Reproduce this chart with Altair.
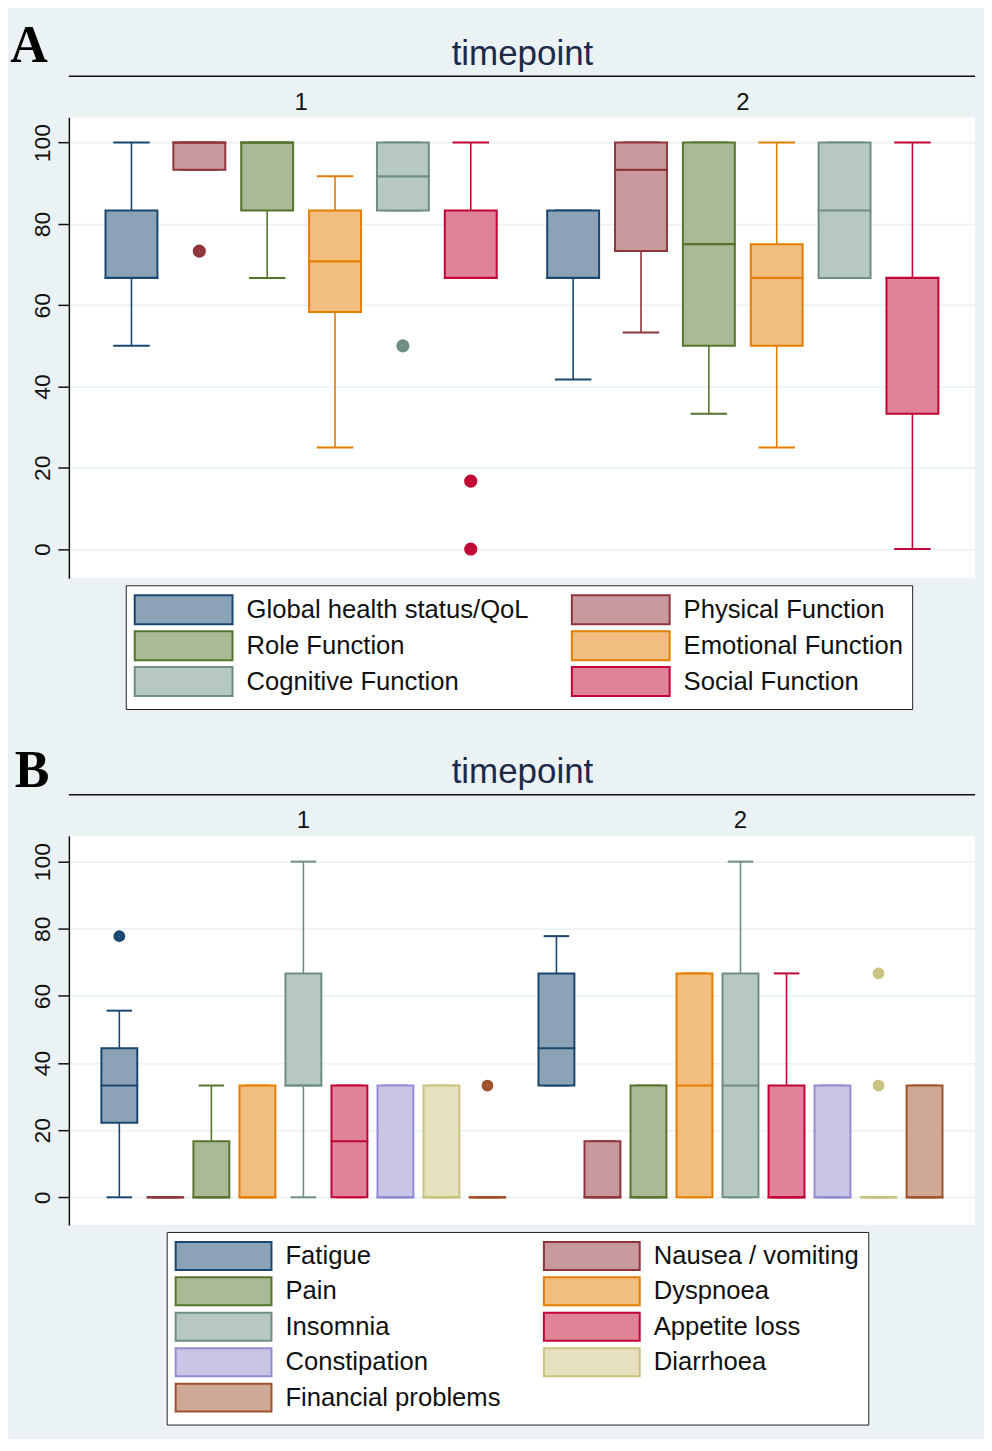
import altair as alt
import pandas as pd

TIMEPOINTS = ["1", "2"]

DARK = ["#1A476F", "#90353B", "#55752F", "#E37E00", "#6E8E84",
        "#C10534", "#938DD2", "#CAC27E", "#A0522D"]
LIGHT = ["#8CA3B7", "#C89A9D", "#AABA97", "#F1BE7F", "#B7C7C2",
         "#E08299", "#C9C6E5", "#E5E1BF", "#D0A996"]

# ---------------- Panel A : functional scales ----------------
func_measures = ["Global health status/QoL", "Physical Function", "Role Function",
                 "Emotional Function", "Cognitive Function", "Social Function"]
# timepoint 1
func_t1_low = [50, 93.3, 66.7, 25, 83.3, 66.7]
func_t1_q1 = [66.7, 93.3, 83.3, 58.3, 83.3, 66.7]
func_t1_med = [66.7, 100, 100, 70.8, 91.7, 66.7]
func_t1_q3 = [83.3, 100, 100, 83.3, 100, 83.3]
func_t1_high = [100, 100, 100, 91.7, 100, 100]
# timepoint 2
func_t2_low = [41.7, 53.3, 33.3, 25, 66.7, 0]
func_t2_q1 = [66.7, 73.3, 50, 50, 66.7, 33.3]
func_t2_med = [66.7, 93.3, 75, 66.7, 83.3, 66.7]
func_t2_q3 = [83.3, 100, 100, 75, 100, 66.7]
func_t2_high = [83.3, 100, 100, 100, 100, 100]
# outliers
func_out_tp = ["1", "1", "1", "1"]
func_out_measure = ["Physical Function", "Cognitive Function", "Social Function", "Social Function"]
func_out_value = [73.3, 50, 16.7, 0]

# ---------------- Panel B : symptom scales ----------------
symp_measures = ["Fatigue", "Nausea / vomiting", "Pain", "Dyspnoea", "Insomnia",
                 "Appetite loss", "Constipation", "Diarrhoea", "Financial problems"]
symp_t1_low = [0, 0, 0, 0, 0, 0, 0, 0, 0]
symp_t1_q1 = [22.2, 0, 0, 0, 33.3, 0, 0, 0, 0]
symp_t1_med = [33.3, 0, 0, 0, 33.3, 16.7, 0, 0, 0]
symp_t1_q3 = [44.4, 0, 16.7, 33.3, 66.7, 33.3, 33.3, 33.3, 0]
symp_t1_high = [55.6, 0, 33.3, 33.3, 100, 33.3, 33.3, 33.3, 0]
symp_t2_low = [33.3, 0, 0, 0, 0, 0, 0, 0, 0]
symp_t2_q1 = [33.3, 0, 0, 0, 0, 0, 0, 0, 0]
symp_t2_med = [44.4, 0, 0, 33.3, 33.3, 0, 0, 0, 0]
symp_t2_q3 = [66.7, 16.7, 33.3, 66.7, 66.7, 33.3, 33.3, 0, 33.3]
symp_t2_high = [77.8, 16.7, 33.3, 66.7, 100, 66.7, 33.3, 0, 33.3]
symp_out_tp = ["1", "1", "2", "2"]
symp_out_measure = ["Fatigue", "Financial problems", "Diarrhoea", "Diarrhoea"]
symp_out_value = [77.8, 33.3, 33.3, 66.7]


def stats_frame(measures, by_tp):
    recs = []
    for tp, (low, q1, med, q3, high) in by_tp.items():
        for i, m in enumerate(measures):
            recs.append(dict(tp=tp, measure=m, low=low[i], q1=q1[i],
                             med=med[i], q3=q3[i], high=high[i]))
    return pd.DataFrame(recs)


func_stats = stats_frame(func_measures, {
    "1": (func_t1_low, func_t1_q1, func_t1_med, func_t1_q3, func_t1_high),
    "2": (func_t2_low, func_t2_q1, func_t2_med, func_t2_q3, func_t2_high)})
func_outs = pd.DataFrame(dict(tp=func_out_tp, measure=func_out_measure, value=func_out_value))

symp_stats = stats_frame(symp_measures, {
    "1": (symp_t1_low, symp_t1_q1, symp_t1_med, symp_t1_q3, symp_t1_high),
    "2": (symp_t2_low, symp_t2_q1, symp_t2_med, symp_t2_q3, symp_t2_high)})
symp_outs = pd.DataFrame(dict(tp=symp_out_tp, measure=symp_out_measure, value=symp_out_value))

FONT = "Liberation Sans"
W = 908


def panel(letter, letter_x, letter_y, measures, stats, outs, height, ydom,
          x_pi, x_po, off_pi, cap_w, box_w, pt_d, sw_w, sw_h,
          leg_x, leg_y, col_pad, row_pad):
    n = len(measures)
    dark_of = {m: DARK[i] for i, m in enumerate(measures)}
    light_of = {m: LIGHT[i] for i, m in enumerate(measures)}
    # legend reads row by row (two columns) like the reference
    leg_order = measures[0::2] + measures[1::2]

    x = alt.X("tp:N",
              scale=alt.Scale(domain=TIMEPOINTS, paddingInner=x_pi, paddingOuter=x_po),
              axis=alt.Axis(orient="top", title="timepoint", labelAngle=0,
                            labelFontSize=24, labelFont=FONT, labelColor="#111111",
                            labelPadding=3, ticks=False, domain=False, grid=False,
                            titleFontSize=35, titleFont=FONT, titleFontWeight="normal",
                            titleColor="#1c2a4a", titlePadding=19))
    xo = alt.XOffset("measure:N",
                     scale=alt.Scale(domain=measures, paddingInner=off_pi,
                                     paddingOuter=off_pi / 2))
    yscale = alt.Scale(domain=ydom, nice=False, zero=False)
    yaxis = alt.Axis(values=[0, 20, 40, 60, 80, 100], title=None, labelAngle=-90,
                     labelAlign="center", labelBaseline="bottom",
                     labelFontSize=23, labelFont=FONT, labelColor="#111111",
                     labelPadding=3, domainColor="#111111", domainWidth=1.5,
                     tickColor="#111111", tickWidth=1.5, tickSize=11,
                     gridColor="#EAF2F3", gridWidth=1.5)

    def Y(field):
        return alt.Y(field, scale=yscale, axis=yaxis)

    # swatch: wide rectangle drawn from a small symbol size
    hx = (sw_w / 2.0) / (sw_h / 2.0)
    swatch = "M-%.3f,-1H%.3fV1H-%.3fZ" % (hx, hx, hx)
    entry = sw_h + 2
    sym_off = sw_w / 2.0 - entry / 2.0
    legend = alt.Legend(orient="none", legendX=leg_x, legendY=leg_y, columns=2,
                        title=None, symbolType=swatch, symbolSize=sw_h ** 2,
                        symbolStrokeWidth=2, symbolOffset=sym_off,
                        labelFont=FONT, labelFontSize=25.7, labelColor="#111111",
                        labelOffset=sw_w + 14 - entry - sym_off, columnPadding=col_pad,
                        rowPadding=row_pad, padding=9, strokeColor="#222222",
                        fillColor="white", labelLimit=400)
    fill = alt.Fill("measure:N",
                    scale=alt.Scale(domain=leg_order, range=[light_of[m] for m in leg_order]),
                    legend=legend)
    stroke = alt.Stroke("measure:N",
                        scale=alt.Scale(domain=leg_order, range=[dark_of[m] for m in leg_order]),
                        legend=legend)

    base = alt.Chart(stats)
    whisk = base.mark_rule(strokeWidth=1.6).encode(
        x=x, xOffset=xo, y=Y("low:Q"), y2="high:Q", stroke=stroke)
    cap_lo = base.mark_tick(size=cap_w, thickness=0.4, filled=False, strokeWidth=1.6, opacity=1).encode(
        x=x, xOffset=xo, y=Y("low:Q"), stroke=stroke)
    cap_hi = base.mark_tick(size=cap_w, thickness=0.4, filled=False, strokeWidth=1.6, opacity=1).encode(
        x=x, xOffset=xo, y=Y("high:Q"), stroke=stroke)
    box = base.mark_bar(strokeWidth=2).encode(
        x=x, xOffset=xo, y=Y("q1:Q"), y2="q3:Q", fill=fill, stroke=stroke)
    med = base.mark_tick(size=box_w, thickness=0.4, filled=False, strokeWidth=1.8, opacity=1).encode(
        x=x, xOffset=xo, y=Y("med:Q"), stroke=stroke)
    r = pt_d / 4.0
    pts = alt.Chart(outs).mark_point(shape="circle", filled=False, size=3.14159 * r * r,
                                     strokeWidth=2 * r, opacity=1).encode(
        x=x, xOffset=xo, y=Y("value:Q"), stroke=stroke)
    one = pd.DataFrame({"k": [0]})
    line = alt.Chart(one).mark_rule(color="#111111", strokeWidth=1.5).encode(
        x=alt.value(0), x2=alt.value(W), y=alt.value(-41))
    lett = alt.Chart(one).mark_text(text=letter, font="Liberation Serif", fontWeight="bold",
                                    fontSize=52, align="center", baseline="alphabetic",
                                    color="#000000").encode(
        x=alt.value(letter_x), y=alt.value(letter_y))
    return alt.layer(whisk, cap_lo, cap_hi, box, med, pts, line, lett).properties(
        width=W, height=height)


panelA = panel("A", -40, -55, func_measures, func_stats, func_outs, 462, [-7.2, 106.24],
               0.0782, 0.0649, 0.235, 35, 52, 14, 98, 29, 57, 469, 39, -1)
panelB = panel("B", -37, -49, symp_measures, symp_stats, symp_outs, 390, [-8.24, 107.7],
               0.0525, 0.0628, 0.22, 24, 36, 12.5, 96, 28, 98, 397, 38, -0.5)

chart = alt.vconcat(panelA, panelB, spacing=35).resolve_scale(
    x="independent", y="independent", xOffset="independent",
    fill="independent", stroke="independent"
).resolve_legend(fill="independent", stroke="independent").configure(
    background="#EAF2F3", font=FONT,
    padding={"left": 2, "top": 11, "right": 8, "bottom": 12}
).configure_view(fill="white", stroke=None)

chart.save("out.html", embed_options={"renderer": "svg", "actions": False})
